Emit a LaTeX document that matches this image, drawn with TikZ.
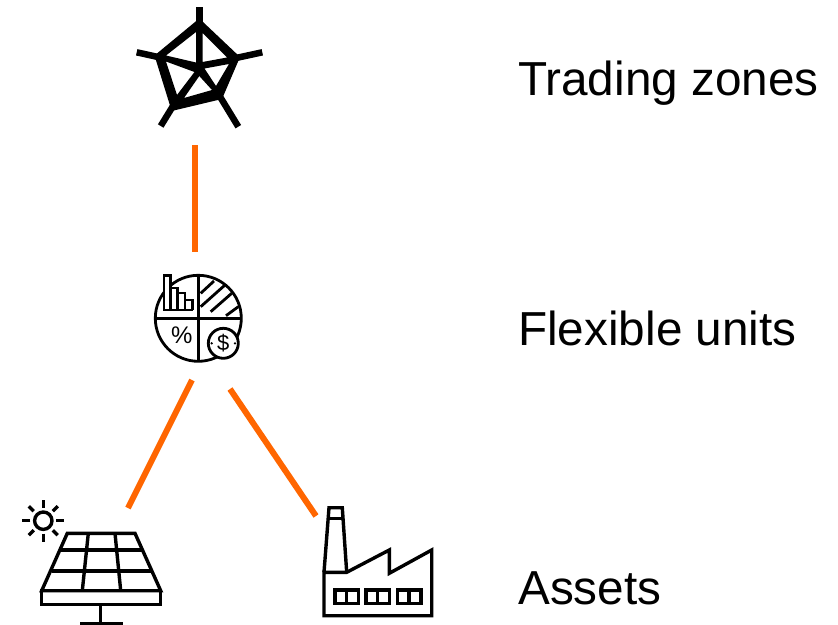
\documentclass[tikz,border=0pt]{standalone}
\usepackage{fontspec}
\setmainfont{Liberation Sans}
\tikzset{
	label/.style={anchor=base west, inner sep=0pt, font=\fontsize{47.7}{47.7}\selectfont},
	link/.style={draw=orange1, line width=6pt},
	icon/.style={line width=3.4pt, line join=miter},
	pieline/.style={line width=2.8pt, line join=miter}
}
\definecolor{orange1}{HTML}{FF6600}
\begin{document}
\begin{tikzpicture}[x=1pt,y=-1pt]
	\useasboundingbox (0,0) rectangle (838,624);
	% labels
	\node[label] (zones) at (518,95) {Trading zones};
	\node[label] (units) at (518,345) {Flexible units};
	\node[label] (assets) at (518,604) {Assets};
	% orange links
	\coordinate (zonesend) at (195,145); \coordinate (unitstop) at (195,252);
	\draw[link] (zonesend) -- (unitstop);
	\coordinate (unitsleft) at (192,380); \coordinate (solarend) at (128,508);
	\draw[link] (unitsleft) -- (solarend);
	\coordinate (unitsright) at (230,389); \coordinate (factoryend) at (316,516);
	\draw[link] (unitsright) -- (factoryend);
	% radar
	\fill[even odd rule] (199.3,18.5) -- (240,57) -- (222,99) -- (171.7,111) -- (154.5,55.5) -- cycle
		(202.5,33) -- (227,57.5) -- (202.5,62) -- cycle
		(204.5,68.5) -- (229,64) -- (216,86) -- cycle
		(199.3,76) -- (212,90) -- (184,98) -- cycle
		(194.5,72) -- (177,95) -- (166,61.5) -- cycle
		(196,32) -- (196,62.5) -- (166,55.5) -- cycle;
	\draw[line width=6.5pt] (199.3,30) -- (199.3,7);
	\draw[line width=6.5pt] (236,58) -- (262.3,52.3);
	\draw[line width=6.5pt] (219,95) -- (238.3,126.7);
	\draw[line width=6.5pt] (173,106) -- (160.7,126);
	\draw[line width=6.5pt] (158,57) -- (136.7,52.3);
	% pie
	\draw[pieline] (198.3,318.3) circle (43);
	\draw[pieline] (198.3,275.3) -- (198.3,361.3); \draw[pieline] (155.3,318.3) -- (241.3,318.3);
	\draw[pieline, fill=white] (192.7,310) -- (164,310) -- (164,275.7) -- (170.7,275.7) -- (170.7,310);
	\draw[pieline] (170.7,288) -- (177.3,288) -- (177.3,310);
	\draw[pieline] (177.3,293) -- (185,293) -- (185,310);
	\draw[pieline] (185,300) -- (192.7,300) -- (192.7,310);
	\draw[pieline] (200.7,293.3) -- (214,281); \draw[pieline] (200.7,306.7) -- (225,285);
	\draw[pieline] (210.7,311.7) -- (231.7,293.3); \draw[pieline] (226,315.7) -- (238.3,306.7);
	\node[inner sep=0pt, font=\fontsize{24}{24}\selectfont] (percent) at (181.7,335.7) {\%};
	\draw[pieline, fill=white] (223.3,343.3) circle (15);
	\node[inner sep=0pt, font=\fontsize{22}{22}\selectfont] (dollar) at (223.3,343.3) {\$};
	\fill (211.7,343.3) circle (1.3); \fill (235,343.3) circle (1.3);
	% solar panel
	\draw[icon] (67.3,533.3) -- (135,533.3) -- (160.7,590.7) -- (41.7,590.7) -- cycle;
	\draw[icon] (41.7,590.7) rectangle (160.7,604.3);
	\draw[icon] (59.5,550) -- (143,550); \draw[icon] (52,571) -- (151.5,571);
	\draw[icon] (88.3,533.3) -- (82.3,590.7); \draw[icon] (115,533.3) -- (120.7,590.7);
	\draw[icon] (100.7,604.3) -- (100.7,623.3); \draw[icon] (80,623.3) -- (122.7,623.3);
	% sun
	\draw[icon] (43.3,520.7) circle (8.7);
	\foreach \a in {0,90,180,270} \draw[icon] (43.3,520.7) ++(\a:13) -- ++(\a:8);
	\foreach \a in {45,135,225,315} \draw[icon] (43.3,520.7) ++(\a:13.5) -- ++(\a:7);
	% factory
	\draw[icon] (324,572.3) -- (324,615.7) -- (431.7,615.7) -- (431.7,550) -- (389.3,573.3) -- (389.3,550) -- (346.7,572.3) -- cycle;
	\draw[icon] (324,572.3) -- (329,507.7) -- (342.3,507.7) -- (346.7,572.3);
	\draw[icon] (328,518.3) -- (343,518.3);
	\foreach \x in {335,366,397.3} {
		\draw[icon] (\x,590) rectangle ++(23.5,13.3);
		\draw[icon] (\x+11.7,590) -- (\x+11.7,603.3);
	}
\end{tikzpicture}
\end{document}
